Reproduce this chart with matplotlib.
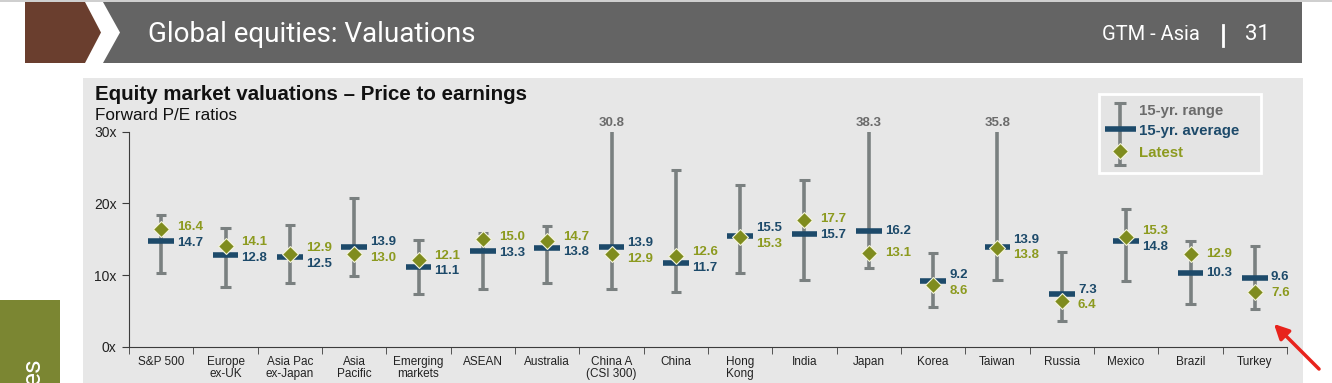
import matplotlib
matplotlib.use("Agg")
import matplotlib.pyplot as plt
import numpy as np
from matplotlib.patches import Polygon, Rectangle
from matplotlib import font_manager

plt.rcParams['font.family'] = ['Liberation Sans', 'DejaVu Sans']

# data
categories = ['S&P 500', 'Europe\nex-UK', 'Asia Pac\nex-Japan', 'Asia\nPacific', 'Emerging\nmarkets',
              'ASEAN', 'Australia', 'China A\n(CSI 300)', 'China', 'Hong\nKong', 'India', 'Japan',
              'Korea', 'Taiwan', 'Russia', 'Mexico', 'Brazil', 'Turkey']
range_high = [18.4, 16.5, 17.0, 20.7, 14.9, 15.8, 16.8, 30.8, 24.6, 22.6, 23.3, 38.3,
              13.1, 35.8, 13.2, 19.2, 14.8, 14.1]
range_low = [10.3, 8.3, 8.9, 9.9, 7.4, 8.1, 8.9, 8.1, 7.7, 10.3, 9.3, 11.0,
             5.6, 9.3, 3.6, 9.1, 5.9, 5.3]
avg_15yr = [14.7, 12.8, 12.5, 13.9, 11.1, 13.3, 13.8, 13.9, 11.7, 15.5, 15.7, 16.2,
            9.2, 13.9, 7.3, 14.8, 10.3, 9.6]
latest = [16.4, 14.1, 12.9, 13.0, 12.1, 15.0, 14.7, 12.9, 12.6, 15.3, 17.7, 13.1,
          8.6, 13.8, 6.4, 15.3, 12.9, 7.6]
yticks = [0, 10, 20, 30]

GREY = '#7a8080'
BLUE = '#1d4a6a'
OLIVE = '#7f8c1e'
OLIVE_TXT = '#8c9a1f'
PANEL = '#e7e7e7'

fig = plt.figure(figsize=(13.32, 3.83), dpi=100)
fig.patch.set_facecolor('white')

# page decoration in pixel coordinates
bg = fig.add_axes([0, 0, 1, 1])
bg.set_xlim(0, 1332)
bg.set_ylim(383, 0)
bg.axis('off')
bg.add_patch(Rectangle((0, 0), 1332, 1.5, color='#cfcfcf', lw=0))
bg.add_patch(Polygon([(25, 2), (85, 2), (101, 32.5), (85, 63), (25, 63)], closed=True, color='#6a3e2e', lw=0))
bg.add_patch(Polygon([(103, 2), (1302, 2), (1302, 63), (103, 63), (120, 32.5)], closed=True, color='#646464', lw=0))
bg.add_patch(Rectangle((83, 78), 1220, 310, color=PANEL, lw=0))
bg.add_patch(Rectangle((0, 300), 60, 90, color='#7b8632', lw=0))

names = {f.name for f in font_manager.fontManager.ttflist}
head_font = 'Liberation Sans Narrow' if 'Liberation Sans Narrow' in names else 'Roboto'
bg.text(148, 34, 'Global equities: Valuations', color='white', fontsize=20, family=head_font,
        va='center', ha='left')
bg.text(1200, 35, 'GTM - Asia', color='white', fontsize=14.5, family=head_font, va='center', ha='right')
bg.plot([1223, 1223], [25, 46], color='white', lw=2)
bg.text(1245, 35, '31', color='white', fontsize=16, family=head_font, va='center', ha='left')
bg.text(33, 357, 'es', color='white', fontsize=19, family=head_font, rotation=90,
        rotation_mode='anchor', ha='right', va='center')

bg.text(95, 95, 'Equity market valuations \u2013 Price to earnings', fontsize=14.8, fontweight='bold',
        color='#111111', va='center')
bg.text(95, 116, 'Forward P/E ratios', fontsize=12.3, color='#111111', va='center')

# legend
bg.add_patch(Rectangle((1099, 94), 162, 79, facecolor='#e4e4e4', edgecolor='white', lw=2))
bg.plot([1120, 1120], [103, 165], color=GREY, lw=2.6, solid_capstyle='butt')
bg.plot([1114, 1126], [103, 103], color=GREY, lw=2.2, solid_capstyle='butt')
bg.plot([1114, 1126], [165, 165], color=GREY, lw=2.2, solid_capstyle='butt')
bg.plot([1105, 1136], [129, 129], color=BLUE, lw=4, solid_capstyle='butt')
bg.plot([1120], [151], marker='D', ms=7.8, color=OLIVE, mec='#f4f4dc', mew=0.8)
bg.text(1139, 111, '15-yr. range', fontsize=10.8, fontweight='bold', color='#6b6b6b', va='center')
bg.text(1139, 131, '15-yr. average', fontsize=10.8, fontweight='bold', color=BLUE, va='center')
bg.text(1139, 153, 'Latest', fontsize=10.8, fontweight='bold', color=OLIVE_TXT, va='center')

bg.annotate('', xy=(1272, 322), xytext=(1321, 371),
            arrowprops=dict(arrowstyle='-|>', color='#e8231c', lw=2.5, mutation_scale=22))

# chart
ax = fig.add_axes([129 / 1332, 36.3 / 383, 1158 / 1332, 215 / 383])
ax.set_facecolor('none')
x = np.arange(len(categories))
ymax = 30
hi_draw = np.minimum(range_high, ymax)

ax.vlines(x, range_low, hi_draw, color=GREY, lw=2.6, zorder=2)
ax.hlines(range_low, x - 0.08, x + 0.08, color=GREY, lw=2.2, zorder=2)
capped = np.array(range_high) <= ymax
ax.hlines(np.array(range_high)[capped], x[capped] - 0.08, x[capped] + 0.08, color=GREY, lw=2.2, zorder=2)
for xi, hi in zip(x, range_high):
    if hi > ymax:
        ax.text(xi, ymax + 0.4, f'{hi:.1f}', ha='center', va='bottom', fontsize=9.5,
                fontweight='bold', color='#6b6b6b', clip_on=False)

ax.hlines(avg_15yr, x - 0.2, x + 0.2, color=BLUE, lw=4, zorder=3)
ax.plot(x, latest, ls='none', marker='D', ms=7.8, color=OLIVE, mec='#f4f4dc', mew=0.8, zorder=4)

# value labels, pushed apart when they would collide
for xi, a, l in zip(x, avg_15yr, latest):
    ya, yl = a, l
    if abs(a - l) < 2.3:
        mid = (a + l) / 2
        ya, yl = (mid + 1.1, mid - 1.1) if a >= l else (mid - 1.1, mid + 1.1)
    ax.text(xi + 0.25, ya, f'{a:.1f}', fontsize=9.5, fontweight='bold', color=BLUE, va='center')
    ax.text(xi + 0.25, yl, f'{l:.1f}', fontsize=9.5, fontweight='bold', color=OLIVE_TXT, va='center')

ax.set_xlim(-0.5, len(categories) - 0.5)
ax.set_ylim(0, ymax)
ax.set_yticks(yticks)
ax.set_yticklabels([f'{t}x' for t in yticks], fontsize=10, color='#222222')
ax.set_xticks(x)
ax.set_xticklabels(categories, fontsize=8.5, color='#222222', linespacing=1.0)
ax.set_xticks(np.arange(len(categories) + 1) - 0.5, minor=True)
ax.tick_params(axis='x', which='major', length=0, pad=7)
ax.tick_params(axis='x', which='minor', length=5, color='#3c3c3c')
ax.tick_params(axis='y', length=5, color='#3c3c3c', pad=4)
for s in ['top', 'right']:
    ax.spines[s].set_visible(False)
for s in ['left', 'bottom']:
    ax.spines[s].set_color('#3c3c3c')

fig.savefig('out.png', dpi=100)
